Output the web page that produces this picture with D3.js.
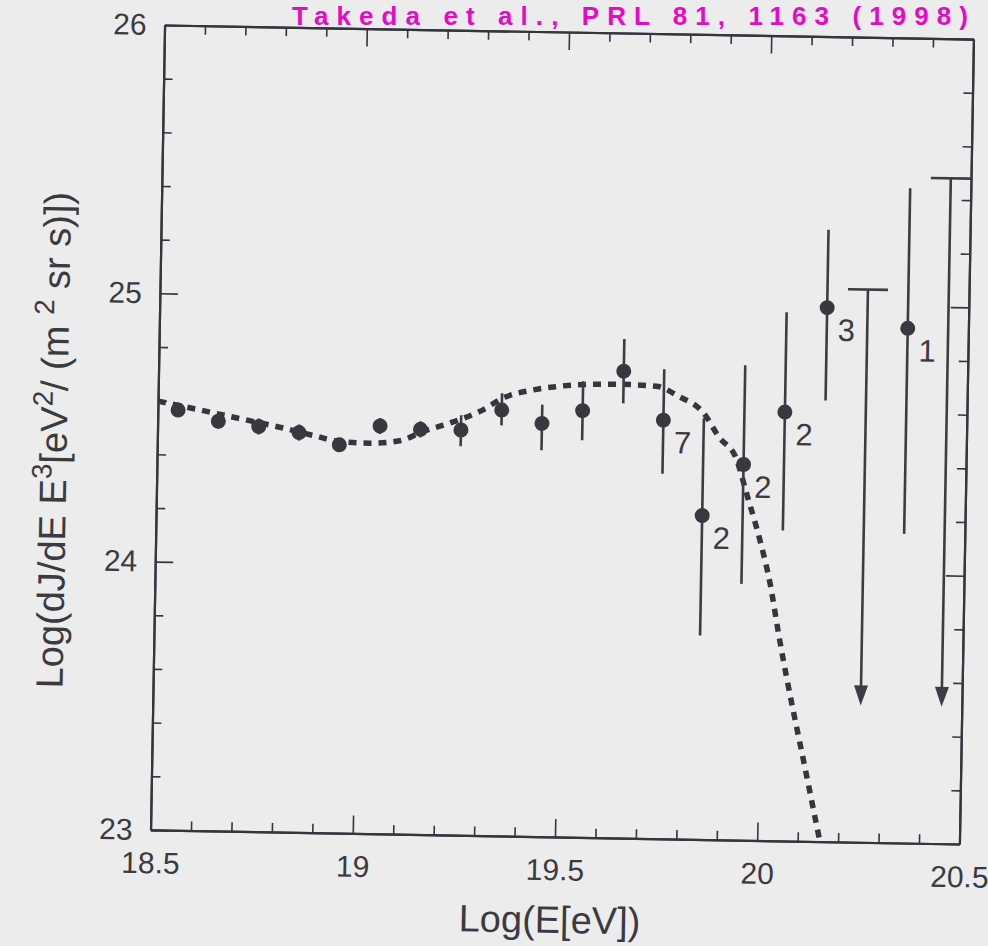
<!DOCTYPE html>
<html>
<head>
<meta charset="utf-8">
<script src="https://cdn.jsdelivr.net/npm/d3@7"></script>
<style>
  html, body { margin: 0; padding: 0; background: #ececed; }
  svg { display: block; }
  text { font-family: "Liberation Sans", Arial, Helvetica, sans-serif; fill: #3a3a40; }
</style>
</head>
<body>
<svg id="chart" width="988" height="946"></svg>
<script>
// measured points (log E, log flux*E^3)
const energy = [18.55, 18.65, 18.75, 18.85, 18.95, 19.05, 19.15, 19.25, 19.35,
                19.45, 19.55, 19.65, 19.75, 19.85, 19.95, 20.05, 20.15, 20.35];
const flux   = [24.566, 24.527, 24.51, 24.49, 24.447, 24.52, 24.51, 24.51, 24.587,
                24.54, 24.59, 24.74, 24.56, 24.207, 24.40, 24.598, 24.99, 24.918];
const errLow  = [24.54, 24.50, 24.48, 24.46, 24.42, 24.49, 24.48, 24.45, 24.53,
                 24.44, 24.48, 24.62, 24.36, 23.76, 23.955, 24.157, 24.644, 24.152];
const errHigh = [24.59, 24.55, 24.54, 24.52, 24.47, 24.55, 24.54, 24.565, 24.65,
                 24.61, 24.70, 24.86, 24.75, 24.57, 24.77, 24.97, 25.28, 25.44];
// event counts written next to the last points
const counts = [null, null, null, null, null, null, null, null, null,
                null, null, null, "7", "2", "2", "2", "3", "1"];

// upper limits
const limitE = [20.25, 20.45];
const limitTop = [25.06, 25.48];
const limitBottom = [23.51, 23.51];

// expected spectrum (dashed curve)
const modelE = [18.5, 18.6, 18.677, 18.735, 18.81, 18.889, 18.951, 19.025, 19.099,
                19.156, 19.222, 19.295, 19.36, 19.426, 19.484, 19.525, 19.64, 19.731,
                19.789, 19.847, 19.888, 19.932, 19.959, 19.994, 20.021, 20.044, 20.125, 20.155];
const modelFlux = [24.598, 24.569, 24.546, 24.529, 24.506, 24.479, 24.459, 24.455, 24.466,
                   24.502, 24.535, 24.58, 24.637, 24.664, 24.678, 24.685, 24.691, 24.686,
                   24.648, 24.593, 24.501, 24.421, 24.291, 24.118, 23.957, 23.771, 23.206, 23.0];

const xTicks = [18.5, 19, 19.5, 20, 20.5];
const yTicks = [23, 24, 25, 26];

const svg = d3.select('#chart');
const plotL = 157.5, plotR = 966.5, plotT = 32, plotB = 837;
const ink = '#35353f';

const x = d3.scaleLinear().domain([18.5, 20.5]).range([plotL, plotR]);
const y = d3.scaleLinear().domain([23, 26]).range([plotB, plotT]);

// handwritten reference note along the top edge
svg.append('text')
  .attr('x', 292)
  .attr('y', 25)
  .attr('textLength', 676)
  .attr('lengthAdjust', 'spacing')
  .style('font-size', '26px')
  .style('font-weight', 'bold')
  .style('fill', '#e60ac8')
  .text('Takeda et al., PRL 81, 1163 (1998)');

// the scan is slightly tilted
const g = svg.append('g').attr('transform', `rotate(1, ${(plotL + plotR) / 2}, ${(plotT + plotB) / 2})`);

const xMinor = d3.range(186, 205).map(d => d / 10).filter(d => !xTicks.includes(d));
const yMinor = d3.range(116, 130).map(d => d / 5).filter(d => !yTicks.includes(d));

function drawAxis(axis, transform, labels){
  const a = g.append('g').attr('transform', transform).call(axis);
  a.select('.domain').attr('stroke', ink).attr('stroke-width', 2.2);
  a.selectAll('.tick line').attr('stroke', ink).attr('stroke-width', 1.6);
  a.selectAll('.tick text').style('font-size', '30px').attr('fill', '#3a3a40').style('font-family', '"Liberation Sans", Arial, sans-serif');
  if (!labels) a.selectAll('.tick text').remove();
  return a;
}

// bottom
drawAxis(d3.axisBottom(x).tickValues(xMinor).tickSize(-9).tickSizeOuter(0), `translate(0,${plotB})`, false);
drawAxis(d3.axisBottom(x).tickValues(xTicks).tickSize(-18).tickSizeOuter(0).tickPadding(22)
  .tickFormat(d3.format('')), `translate(0,${plotB})`, true);
// top
drawAxis(d3.axisTop(x).tickValues(xMinor).tickSize(-9).tickSizeOuter(0), `translate(0,${plotT})`, false);
drawAxis(d3.axisTop(x).tickValues(xTicks).tickSize(-18).tickSizeOuter(0), `translate(0,${plotT})`, false);
// left
drawAxis(d3.axisLeft(y).tickValues(yMinor).tickSize(-9).tickSizeOuter(0), `translate(${plotL},0)`, false);
drawAxis(d3.axisLeft(y).tickValues(yTicks).tickSize(-18).tickSizeOuter(0).tickPadding(18)
  .tickFormat(d3.format('d')), `translate(${plotL},0)`, true);
// right
drawAxis(d3.axisRight(y).tickValues(yMinor).tickSize(-9).tickSizeOuter(0), `translate(${plotR},0)`, false);
drawAxis(d3.axisRight(y).tickValues(yTicks).tickSize(-18).tickSizeOuter(0), `translate(${plotR},0)`, false);

// axis titles
g.append('text')
  .attr('x', (plotL + plotR) / 2 - 4)
  .attr('y', 933)
  .attr('text-anchor', 'middle')
  .style('font-size', '38px')
  .text('Log(E[eV])');

const yt = g.append('text')
  .attr('transform', `translate(67, 449) rotate(-90)`)
  .attr('text-anchor', 'middle')
  .style('font-size', '38px');
yt.append('tspan').text('Log(dJ/dE E');
yt.append('tspan').attr('dy', -15).style('font-size', '28px').text('3');
yt.append('tspan').attr('dy', 15).text('[eV');
yt.append('tspan').attr('dy', -15).style('font-size', '28px').text('2');
yt.append('tspan').attr('dy', 15).text('/ (m ');
yt.append('tspan').attr('dy', -15).style('font-size', '28px').text('2');
yt.append('tspan').attr('dy', 15).text(' sr s)])');

// model curve, clipped to the frame
g.append('clipPath').attr('id', 'frameClip')
  .append('rect').attr('x', plotL).attr('y', plotT).attr('width', plotR - plotL).attr('height', plotB - plotT);

const line = d3.line().x(d => x(d[0])).y(d => y(d[1])).curve(d3.curveMonotoneX);
g.append('path')
  .datum(modelE.map((e, i) => [e, modelFlux[i]]))
  .attr('clip-path', 'url(#frameClip)')
  .attr('d', line)
  .attr('fill', 'none')
  .attr('stroke', ink)
  .attr('stroke-width', 5.5)
  .attr('stroke-dasharray', '8,7');

// error bars
const pts = energy.map((e, i) => ({e, f: flux[i], lo: errLow[i], hi: errHigh[i], n: counts[i]}));

g.selectAll('line.err')
  .data(pts)
  .enter()
  .append('line')
  .attr('class', 'err')
  .attr('x1', d => x(d.e)).attr('x2', d => x(d.e))
  .attr('y1', d => y(d.lo)).attr('y2', d => y(d.hi))
  .attr('stroke', '#3c3c44')
  .attr('stroke-width', 2.6);

g.selectAll('circle.pt')
  .data(pts)
  .enter()
  .append('circle')
  .attr('class', 'pt')
  .attr('cx', d => x(d.e))
  .attr('cy', d => y(d.f))
  .attr('r', 7.5)
  .attr('fill', '#38383e');

g.selectAll('text.count')
  .data(pts.filter(d => d.n))
  .enter()
  .append('text')
  .attr('class', 'count')
  .attr('x', d => x(d.e) + 11)
  .attr('y', d => y(d.f) + 33)
  .style('font-size', '31px')
  .text(d => d.n);

// upper limits
const lims = limitE.map((e, i) => ({e, t: limitTop[i], b: limitBottom[i]}));
const lg = g.selectAll('g.lim').data(lims).enter().append('g').attr('class', 'lim');
lg.append('line')
  .attr('x1', d => x(d.e) - 20).attr('x2', d => x(d.e) + 20)
  .attr('y1', d => y(d.t)).attr('y2', d => y(d.t))
  .attr('stroke', '#3c3c44').attr('stroke-width', 2.6);
lg.append('line')
  .attr('x1', d => x(d.e)).attr('x2', d => x(d.e))
  .attr('y1', d => y(d.t)).attr('y2', d => y(d.b) - 12)
  .attr('stroke', '#3c3c44').attr('stroke-width', 2.6);
lg.append('path')
  .attr('d', d => {
    const cx = x(d.e), cy = y(d.b);
    return `M${cx - 7},${cy - 20} L${cx + 7},${cy - 20} L${cx},${cy} Z`;
  })
  .attr('fill', '#3c3c44');
</script>
</body>
</html>
